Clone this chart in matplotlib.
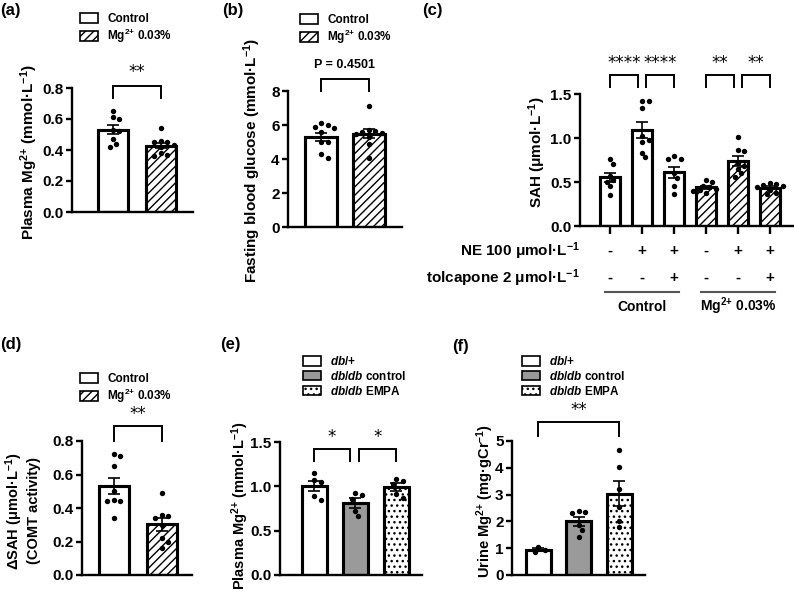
import numpy as np
import matplotlib
matplotlib.use("Agg")
import matplotlib.pyplot as plt
from matplotlib.patches import Patch

plt.rcParams['font.family'] = ['Liberation Sans', 'DejaVu Sans']
plt.rcParams['font.weight'] = 'bold'
plt.rcParams['mathtext.fontset'] = 'custom'
plt.rcParams['mathtext.rm'] = 'Liberation Sans'
plt.rcParams['mathtext.bf'] = 'Liberation Sans:bold'
plt.rcParams['mathtext.it'] = 'Liberation Sans:italic:bold'
plt.rcParams['mathtext.default'] = 'bf'
plt.rcParams['hatch.linewidth'] = 1.0

# ---------------- data ----------------
a_groups = ['Control', 'Mg$^{2{+}}$ 0.03%']
a_control = [0.65, 0.61, 0.60, 0.53, 0.52, 0.47, 0.44, 0.42]
a_mg = [0.54, 0.46, 0.45, 0.45, 0.43, 0.42, 0.38, 0.36, 0.37]

b_control = [6.1, 6.0, 5.9, 5.8, 5.6, 5.0, 5.0, 4.3, 4.05]
b_mg = [7.1, 5.7, 5.65, 5.6, 5.55, 5.5, 5.3, 4.9, 4.05]
b_ptext = 'P = 0.4501'

c_data = [
    [0.76, 0.71, 0.57, 0.52, 0.50, 0.45, 0.35],
    [1.42, 1.42, 1.34, 1.02, 0.98, 0.95, 0.83, 0.78],
    [0.80, 0.76, 0.76, 0.60, 0.55, 0.45, 0.36],
    [0.52, 0.50, 0.46, 0.44, 0.42, 0.40, 0.38, 0.41],
    [1.01, 0.86, 0.85, 0.72, 0.68, 0.65, 0.60, 0.56],
    [0.49, 0.48, 0.47, 0.46, 0.44, 0.41, 0.38, 0.36],
]
c_ne = ['-', '+', '+', '-', '+', '+']
c_tol = ['-', '-', '+', '-', '-', '+']
c_row_labels = ['NE 100 μmol·L$^{-1}$', 'tolcapone 2 μmol·L$^{-1}$']
c_group_labels = ['Control', 'Mg$^{2{+}}$ 0.03%']

d_control = [0.72, 0.71, 0.65, 0.50, 0.45, 0.44, 0.44, 0.34]
d_mg = [0.49, 0.36, 0.35, 0.34, 0.30, 0.22, 0.20, 0.16]

db_groups = ['$\\it{db/}$$\\it{+}$', '$\\it{db/db}$ control', '$\\it{db/db}$ EMPA']
e_data = [
    [1.15, 1.07, 1.05, 0.89, 0.85],
    [0.92, 0.90, 0.86, 0.72, 0.66],
    [1.08, 1.06, 1.03, 0.91, 0.87],
]
f_data = [
    [1.05, 0.92, 0.85],
    [2.40, 2.35, 2.32, 1.87, 1.68, 1.43],
    [4.66, 4.02, 3.20, 2.52, 2.00, 1.78],
]

# ---------------- figure ----------------
W, H = 794, 598
fig = plt.figure(figsize=(W / 100, H / 100), dpi=100)

def add_ax(l, r, t, b):
    return fig.add_axes([l / W, 1 - b / H, (r - l) / W, (b - t) / H])

SPINE_LW = 1.7
BAR_LW = 2.2
TICK_FS = 11
YLAB_FS = 11

def style(ax, ymax, yticks, yticklabels, xlim):
    for s in ['top', 'right']:
        ax.spines[s].set_visible(False)
    for s in ['left', 'bottom']:
        ax.spines[s].set_linewidth(SPINE_LW)
    ax.set_ylim(0, ymax)
    ax.set_xlim(*xlim)
    ax.set_yticks(yticks)
    ax.set_yticklabels(yticklabels)
    ax.tick_params(axis='y', direction='out', length=4, width=SPINE_LW,
                   labelsize=TICK_FS, pad=2)
    ax.set_xticks([])
    ax.patch.set_alpha(0)

def swarm_offsets(ax, vals, d=5.4):
    p0 = ax.transData.transform((0, 0))
    p1 = ax.transData.transform((1, 1))
    sx, sy = p1[0] - p0[0], p1[1] - p0[1]
    order = sorted(range(len(vals)), key=lambda i: -vals[i])
    placed = []
    offs = [0.0] * len(vals)
    step = d * 0.6
    cands = [0]
    for k in range(1, 10):
        cands += [k * step, -k * step]
    for i in order:
        y = vals[i] * sy
        for o in cands:
            if all(np.hypot(o - ox, y - oy) >= d for ox, oy in placed):
                break
        placed.append((o, y))
        offs[i] = o / sx
    return offs

def bars(ax, groups_vals, width, fills, hatches):
    xs = np.arange(len(groups_vals))
    means = [np.mean(v) for v in groups_vals]
    sems = [np.std(v, ddof=1) / np.sqrt(len(v)) for v in groups_vals]
    ax.bar(xs, means, width, color=fills, edgecolor='black', linewidth=BAR_LW, zorder=2)
    for x, m, h in zip(xs, means, hatches):
        if h:
            ax.bar([x], [m], width, color='none', edgecolor='black', linewidth=0,
                   hatch=h, zorder=2.1)
    ax.bar(xs, means, width, color='none', edgecolor='black', linewidth=BAR_LW, zorder=2.2)
    for x, v in zip(xs, groups_vals):
        offs = swarm_offsets(ax, v)
        ax.scatter(x + np.array(offs), v, s=15, color='black', zorder=3,
                   linewidths=0, clip_on=False)
    ax.errorbar(xs, means, yerr=sems, fmt='none', ecolor='black', elinewidth=1.2,
                capsize=4.5, capthick=1.2, zorder=4)
    return xs

def bracket(ax, x1, x2, ytop, ybot, text, ytext, fs=12, family='DejaVu Sans', weight='normal'):
    ax.plot([x1, x1, x2, x2], [ybot, ytop, ytop, ybot], color='black', lw=1.4,
            clip_on=False, solid_joinstyle='miter', zorder=5)
    ax.text((x1 + x2) / 2, ytext, text, ha='center', va='center', fontsize=fs,
            family=family, fontweight=weight, clip_on=False)

def legend(labels, fills, hatches, x, y):
    handles = [Patch(facecolor=f, edgecolor='black', hatch=h, linewidth=1.2)
               for f, h in zip(fills, hatches)]
    fig.legend(handles, labels, loc='upper left', bbox_to_anchor=(x / W, 1 - y / H),
               bbox_transform=fig.transFigure, frameon=False, fontsize=8.5,
               handlelength=1.55, handleheight=0.85, handletextpad=0.75,
               labelspacing=0.15, borderpad=0, borderaxespad=0)

def panel_label(t, x, y):
    fig.text(x / W, 1 - y / H, t, ha='left', va='center', fontsize=12, fontweight='bold')

def ylabel(ax, text, xf, yf, fs=YLAB_FS):
    ax.set_ylabel(text, fontsize=fs, fontweight='bold')
    ax.yaxis.label.set_va('center')
    ax.yaxis.set_label_coords(xf, yf)

two_fill = ['white', 'white']
two_hatch = [None, '////']

# ---- (a)
ax = add_ax(72, 193, 88, 212)
style(ax, 0.8, [0, 0.2, 0.4, 0.6, 0.8], ['0.0', '0.2', '0.4', '0.6', '0.8'], (-0.85, 1.67))
bars(ax, [a_control, a_mg], 0.63, two_fill, two_hatch)
bracket(ax, 0, 1, 0.81, 0.735, '**', 0.905)
ylabel(ax, 'Plasma Mg$^{2{+}}$ $\\mathrm{(mmol·L^{-1})}$', -0.35, 0.484)
legend(a_groups, two_fill, two_hatch, 80, 13)
panel_label('(a)', 0, 10)

# ---- (b)
ax = add_ax(288, 402, 91, 227)
style(ax, 8, [0, 2, 4, 6, 8], ['0', '2', '4', '6', '8'], (-0.69, 1.69))
bars(ax, [b_control, b_mg], 0.65, two_fill, two_hatch)
bracket(ax, 0, 1, 8.7, 8.0, b_ptext, 9.55, fs=9, family=['Liberation Sans'], weight='bold')
ylabel(ax, 'Fasting blood glucose $\\mathrm{(mmol·L^{-1})}$', -0.316, 0.49)
legend(a_groups, two_fill, two_hatch, 300, 14)
panel_label('(b)', 222, 10)

# ---- (c)
ax = add_ax(580, 793, 94, 226)
style(ax, 1.5, [0, 0.5, 1.0, 1.5], ['0.0', '0.5', '1.0', '1.5'], (-0.94, 5.72))
xs = bars(ax, c_data, 0.64, ['white'] * 6, [None, None, None, '////', '////', '////'])
ax.set_xticks(xs)
ax.set_xticklabels([])
ax.tick_params(axis='x', direction='out', length=6, width=SPINE_LW)
bracket(ax, 0, 0.88, 1.716, 1.58, '****', 1.85)
bracket(ax, 1.12, 2, 1.716, 1.58, '****', 1.85)
bracket(ax, 3, 3.88, 1.716, 1.58, '**', 1.85)
bracket(ax, 4.12, 5, 1.716, 1.58, '**', 1.85)
ylabel(ax, 'SAH (μmol·L$^{-1}$)', -0.202, 0.56)
tr = ax.get_xaxis_transform()
ax.text(-0.94, -0.19, c_row_labels[0], transform=tr, ha='right', va='center',
        fontsize=11, fontweight='bold', clip_on=False)
ax.text(-0.94, -0.395, c_row_labels[1], transform=tr, ha='right', va='center',
        fontsize=11, fontweight='bold', clip_on=False)
for x, s1, s2 in zip(xs, c_ne, c_tol):
    ax.text(x, -0.19, s1, transform=tr, ha='center', va='center', fontsize=11,
            fontweight='bold', clip_on=False)
    ax.text(x, -0.395, s2, transform=tr, ha='center', va='center', fontsize=11,
            fontweight='bold', clip_on=False)
for (g0, g1), lab in zip([(0, 2), (3, 5)], c_group_labels):
    ax.plot([g0 - 0.16, g1 + 0.16], [-0.5, -0.5], transform=tr, color='#555555',
            lw=1.5, clip_on=False)
    ax.text((g0 + g1) / 2, -0.61, lab, transform=tr, ha='center', va='center',
            fontsize=10, fontweight='bold', clip_on=False)
panel_label('(c)', 422, 10)

# ---- (d)
ax = add_ax(82, 192, 441, 575)
style(ax, 0.8, [0, 0.2, 0.4, 0.6, 0.8], ['0.0', '0.2', '0.4', '0.6', '0.8'], (-0.67, 1.64))
bars(ax, [d_control, d_mg], 0.63, two_fill, two_hatch)
bracket(ax, 0, 1, 0.89, 0.80, '**', 0.96)
ylabel(ax, 'ΔSAH $\\mathrm{(μmol·L^{-1})}$\n(COMT activity)', -0.54, 0.478, fs=10.5)
legend(a_groups, two_fill, two_hatch, 80, 373)
panel_label('(d)', 0, 345)

# ---- (e)
db_fill = ['white', '#9a9a9a', 'white']
db_hatch = [None, None, '...']
ax = add_ax(280, 422, 442, 575)
style(ax, 1.5, [0, 0.5, 1.0, 1.5], ['0.0', '0.5', '1.0', '1.5'], (-0.83, 2.63))
bars(ax, e_data, 0.61, db_fill, db_hatch)
bracket(ax, 0, 0.88, 1.42, 1.29, '*', 1.56)
bracket(ax, 1.1, 2, 1.42, 1.29, '*', 1.56)
ylabel(ax, 'Plasma Mg$^{2{+}}$ $\\mathrm{(mmol·L^{-1})}$', -0.28, 0.52, fs=10.5)
legend(db_groups, db_fill, db_hatch, 303, 355)
panel_label('(e)', 220, 345)

# ---- (f)
ax = add_ax(512, 645, 441, 575)
style(ax, 5, [0, 1, 2, 3, 4, 5], ['0', '1', '2', '3', '4', '5'], (-0.65, 2.64))
bars(ax, f_data, 0.62, db_fill, db_hatch)
bracket(ax, 0, 2, 5.7, 5.2, '**', 6.15)
ylabel(ax, 'Urine Mg$^{2{+}}$ $\\mathrm{(mg·gCr^{-1})}$', -0.2, 0.55, fs=10.5)
legend(db_groups, db_fill, db_hatch, 522, 355)
panel_label('(f)', 452, 347)

fig.savefig('out.png', dpi=100)
